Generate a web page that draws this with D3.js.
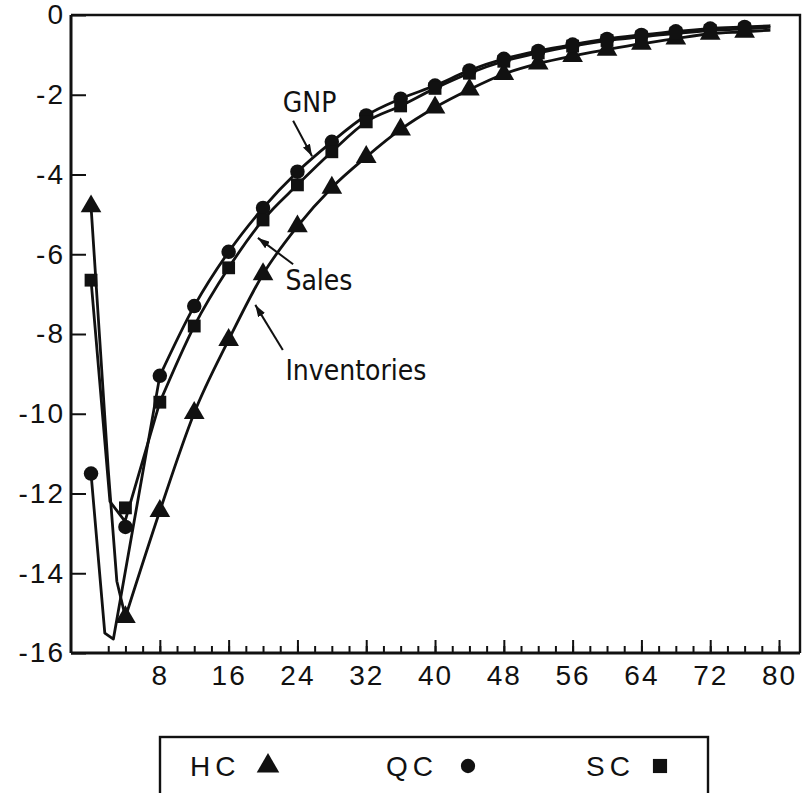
<!DOCTYPE html>
<html>
<head>
<meta charset="utf-8">
<script src="https://cdn.jsdelivr.net/npm/d3@7"></script>
<style>
  body { margin: 0; background: #fff; }
  svg { display: block; }
  text { font-family: 'Liberation Sans', Arial, sans-serif; fill: #111; }
  .note { font-family: 'Liberation Sans Narrow', 'DejaVu Sans Condensed', 'Liberation Sans', sans-serif; }
</style>
</head>
<body>
<div id="chart"></div>
<script>
// x positions of the plotted markers (quarters)
const markerX = [0, 4, 8, 12, 16, 20, 24, 28, 32, 36, 40, 44, 48, 52, 56, 60, 64, 68, 72, 76]

// marker values for each case
const hcValues = [-4.8, -15.1, -12.44, -9.98, -8.15, -6.5, -5.3, -4.33, -3.56, -2.87, -2.32, -1.87, -1.48, -1.22, -1.03, -0.87, -0.72, -0.59, -0.47, -0.42]
const qcValues = [-11.5, -12.84, -9.05, -7.3, -5.94, -4.84, -3.93, -3.18, -2.52, -2.1, -1.77, -1.39, -1.1, -0.9, -0.74, -0.6, -0.5, -0.41, -0.34, -0.3]
const scValues = [-6.65, -12.36, -9.71, -7.8, -6.34, -5.14, -4.26, -3.43, -2.68, -2.28, -1.84, -1.46, -1.16, -0.95, -0.78, -0.64, -0.55, -0.46, -0.39, -0.35]

// unmarked line vertices in the first quarters
const hcDip = [[1, -8.1], [2, -11.4], [3, -14.2]]
const qcDip = [[1.6, -15.5], [2.6, -15.65]]
const scDip = [[2.2, -12.2], [3.95, -12.7]]

// x where each line turns smooth, and where the lines stop
const joinX = [4, 8, 8]
const endX = 79
const endValues = [-0.38, -0.27, -0.31]

const seriesNames = ['HC', 'QC', 'SC']
const xTickLabels = [8, 16, 24, 32, 40, 48, 56, 64, 72, 80]
const yTickLabels = [0, -2, -4, -6, -8, -10, -12, -14, -16]

// curve labels with arrows, in data units
const notes = [
  { text: 'GNP', at: [22.3, -2.43], from: [23.5, -2.65], to: [25.7, -3.54] },
  { text: 'Sales', at: [22.6, -6.9], from: [23.5, -6.25], to: [19.4, -5.59] },
  { text: 'Inventories', at: [22.6, -9.15], from: [22.3, -8.4], to: [19.1, -7.27] },
]

const W = 808
const H = 793
const plot = { left: 71, right: 800, top: 15, bottom: 653 }

const svg = d3.select('#chart').append('svg').attr('width', W).attr('height', H)

const x = d3.scaleLinear().domain([-2.33, 82.44]).range([plot.left, plot.right])
const y = d3.scaleLinear().domain([-16, 0]).range([plot.bottom, plot.top])

const symbols = [d3.symbolTriangle, d3.symbolCircle, d3.symbolSquare]
const symbolSizes = [185, 165, 165]

// assemble series from the arrays above
const series = seriesNames.map((name, i) => {
  const values = [hcValues, qcValues, scValues][i]
  const points = markerX.map((mx, j) => [mx, values[j]])
  const dip = [hcDip, qcDip, scDip][i]
  const joinIdx = markerX.indexOf(joinX[i])
  return {
    name,
    points,
    symbol: symbols[i],
    size: symbolSizes[i],
    head: [points[0], ...dip, points[joinIdx]],
    tail: [...points.slice(joinIdx), [endX, endValues[i]]],
  }
})

// frame: top and right borders
svg.append('path')
  .attr('d', `M${plot.left},${plot.top}H${plot.right}V${plot.bottom}`)
  .attr('fill', 'none')
  .attr('stroke', '#111')
  .attr('stroke-width', 2.4)

// x axis: minor ticks every 2, major ticks with labels every 8
svg.append('g')
  .attr('transform', `translate(0,${plot.bottom})`)
  .call(d3.axisBottom(x).tickValues(d3.range(2, 81, 2)).tickSize(-7).tickSizeOuter(0).tickFormat(''))
  .call(g => g.select('.domain').remove())

const xAxis = svg.append('g')
  .attr('class', 'x-axis')
  .attr('transform', `translate(0,${plot.bottom})`)
  .call(d3.axisBottom(x).tickValues(xTickLabels).tickSize(-13).tickSizeOuter(0).tickPadding(12))

xAxis.select('.domain').attr('d', `M${plot.left},0H${plot.right}`)

// y axis with inward ticks
const yAxis = svg.append('g')
  .attr('class', 'y-axis')
  .attr('transform', `translate(${plot.left},0)`)
  .call(d3.axisLeft(y).tickValues(yTickLabels).tickSize(-15).tickSizeOuter(0).tickPadding(6)
    .tickFormat(d => (d === 0 ? '0' : '-' + -d)))

yAxis.select('.domain').attr('d', `M0,${plot.top}V${plot.bottom}`)

svg.selectAll('.x-axis .domain, .y-axis .domain')
  .attr('stroke', '#111')
  .attr('stroke-width', 3)

svg.selectAll('.tick line').attr('stroke', '#111').attr('stroke-width', 2)

svg.selectAll('.tick text')
  .attr('font-family', null)
  .attr('font-size', null)
  .style('font-size', '28px')
  .style('letter-spacing', '2px')
  .attr('fill', '#111')

// lines: straight dip at the start, smooth decay after
const straight = d3.line().x(d => x(d[0])).y(d => y(d[1]))
const smooth = d3.line().x(d => x(d[0])).y(d => y(d[1])).curve(d3.curveMonotoneX)

const lines = svg.append('g')
  .attr('fill', 'none')
  .attr('stroke', '#111')
  .attr('stroke-width', 2.8)
  .attr('stroke-linejoin', 'round')

series.forEach(s => {
  lines.append('path').attr('d', straight(s.head))
  lines.append('path').attr('d', smooth(s.tail))
})

// markers on top of the lines
series.forEach(s => {
  svg.append('g')
    .selectAll('path')
    .data(s.points)
    .join('path')
    .attr('transform', d => `translate(${x(d[0])},${y(d[1])})`)
    .attr('d', d3.symbol().type(s.symbol).size(s.size))
    .attr('fill', '#111')
})

// arrow head for the curve labels
svg.append('defs')
  .append('marker')
  .attr('id', 'arrow')
  .attr('viewBox', '0 0 12 8')
  .attr('refX', 12)
  .attr('refY', 4)
  .attr('markerUnits', 'userSpaceOnUse')
  .attr('markerWidth', 12)
  .attr('markerHeight', 8)
  .attr('orient', 'auto')
  .append('path')
  .attr('d', 'M0,0L12,4L0,8Z')
  .attr('fill', '#111')

notes.forEach(n => {
  svg.append('line')
    .attr('x1', x(n.from[0]))
    .attr('y1', y(n.from[1]))
    .attr('x2', x(n.to[0]))
    .attr('y2', y(n.to[1]))
    .attr('stroke', '#111')
    .attr('stroke-width', 2)
    .attr('marker-end', 'url(#arrow)')

  svg.append('text')
    .attr('class', 'note')
    .attr('x', x(n.at[0]))
    .attr('y', y(n.at[1]))
    .style('font-size', '28px')
    .text(n.text)
})

// legend box along the bottom
const legend = svg.append('g').attr('transform', 'translate(160,737)')

legend.append('rect')
  .attr('width', 548)
  .attr('height', 80)
  .attr('fill', 'none')
  .attr('stroke', '#111')
  .attr('stroke-width', 2.4)

const legendX = [30, 226, 426]
const legendSymbolX = [78, 82, 74]
const legendSizes = [220, 160, 200]

series.forEach((s, i) => {
  const item = legend.append('g').attr('transform', `translate(${legendX[i]},0)`)
  item.append('text')
    .attr('x', 0)
    .attr('y', 39)
    .style('font-size', '28px')
    .style('letter-spacing', '5px')
    .text(s.name)
  item.append('path')
    .attr('transform', `translate(${legendSymbolX[i]},29)`)
    .attr('d', d3.symbol().type(s.symbol).size(legendSizes[i]))
    .attr('fill', '#111')
})
</script>
</body>
</html>
